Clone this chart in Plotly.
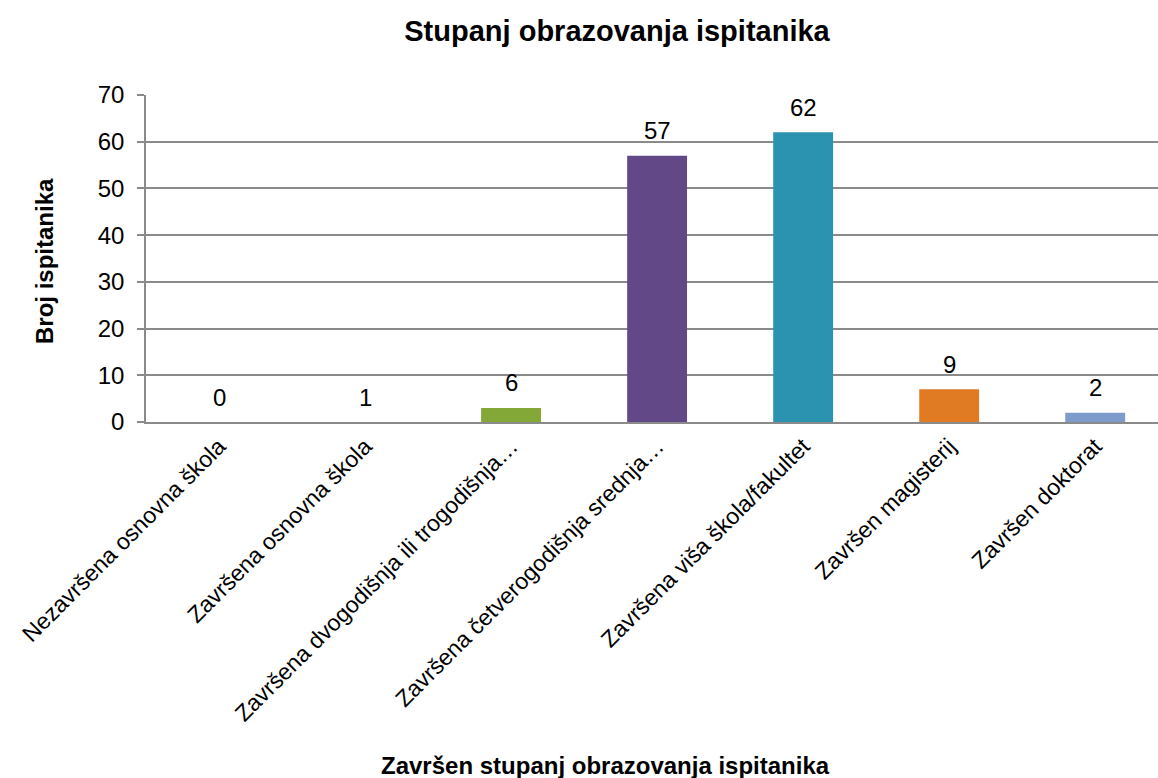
"""
Stupanj obrazovanja ispitanika - stupčasti graf
"""

import plotly.graph_objects as go

# Kategorije (x-os)
categories = [
    "Nezavršena osnovna škola",
    "Završena osnovna škola",
    "Završena dvogodišnja ili trogodišnja…",
    "Završena četverogodišnja srednja…",
    "Završena viša škola/fakultet",
    "Završen magisterij",
    "Završen doktorat",
]

# Visine stupaca (kako su nacrtani)
bar_values = [0, 0, 3, 57, 62, 7, 2]

# Oznake podataka (kako su ispisane iznad stupaca)
data_labels = ["0", "1", "6", "57", "62", "9", "2"]

bar_colors = ["#8db33f", "#8db33f", "#84a838", "#634888", "#2b93b0", "#e07b24", "#7f9bcc"]

y_ticks = [0, 10, 20, 30, 40, 50, 60, 70]

FONT = "Liberation Sans, Arial, sans-serif"

# Plot-područje u pikselima
L, R, T, B = 146, 0, 95, 356
W, H = 1158, 778
PW, PH = W - L - R, H - T - B

fig = go.Figure()
fig.add_trace(go.Bar(
    x=categories,
    y=bar_values,
    width=0.41,
    marker=dict(color=bar_colors, line=dict(width=0)),
    hoverinfo='x+y',
    showlegend=False,
))

# Oznake iznad stupaca
for cat, val, lab in zip(categories, bar_values, data_labels):
    fig.add_annotation(
        x=cat, y=val, xref='x', yref='y',
        text=lab, showarrow=False,
        yanchor='middle', yshift=25,
        font=dict(family=FONT, size=24, color='black'),
    )

# Naslovi osi
fig.add_annotation(
    x=(44 - L) / PW, y=1 - (261 - T) / PH, xref='paper', yref='paper',
    text="<b>Broj ispitanika</b>", textangle=-90, showarrow=False,
    xanchor='center', yanchor='middle',
    font=dict(family=FONT, size=24, color='black'),
)
fig.add_annotation(
    x=(605 - L) / PW, y=-(765 - T - PH) / PH, xref='paper', yref='paper',
    text="<b>Završen stupanj obrazovanja ispitanika</b>", showarrow=False,
    xanchor='center', yanchor='middle',
    font=dict(family=FONT, size=24, color='black'),
)

fig.update_layout(
    width=W,
    height=H,
    paper_bgcolor='white',
    plot_bgcolor='white',
    margin=dict(l=L, r=R, t=T, b=B),
    font=dict(family=FONT, size=23, color='black'),
    title=dict(
        text="<b>Stupanj obrazovanja ispitanika</b>",
        x=617 / W, xanchor='center',
        y=1 - 31 / H, yanchor='middle',
        font=dict(family=FONT, size=29, color='black'),
    ),
    xaxis=dict(
        range=[-0.5, 6.43],
        tickangle=-45,
        showgrid=False,
        showline=True,
        linecolor='#8a8a8a',
        linewidth=1.5,
        ticks='',
        automargin=False,
        tickfont=dict(family=FONT, size=23, color='black'),
    ),
    yaxis=dict(
        range=[0, 70],
        tickvals=y_ticks,
        showgrid=True,
        gridcolor='#8a8a8a',
        gridwidth=1.5,
        zeroline=False,
        showline=True,
        linecolor='#8a8a8a',
        linewidth=1.5,
        ticks='outside',
        ticklen=7,
        tickcolor='#8a8a8a',
        tickwidth=1.5,
        ticklabelstandoff=8,
        automargin=False,
        tickfont=dict(family=FONT, size=24, color='black'),
    ),
)

# bez margine tijela stranice, da se graf poklopi s prozorom
fig.write_html(
    "out.html",
    config={'displayModeBar': False},
    post_script="document.body.style.margin='0';",
)
